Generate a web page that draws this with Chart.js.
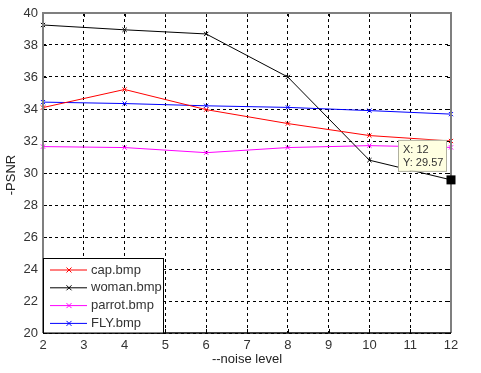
<!DOCTYPE html>
<html><head><meta charset="utf-8">
<script src="https://cdn.jsdelivr.net/npm/chart.js@4/dist/chart.umd.min.js"></script>
<style>html,body{margin:0;padding:0;background:#fff}#wrap{width:481px;height:373px}</style>
</head><body><div id="wrap"><canvas id="c" width="481" height="373"></canvas></div>
<script>
const noiseLevels = [2, 4, 6, 8, 10, 12];
const seriesNames = ['cap.bmp', 'woman.bmp', 'parrot.bmp', 'FLY.bmp'];
const capValues = [34.09, 35.22, 33.96, 33.09, 32.34, 32.0];
const womanValues = [39.25, 38.95, 38.69, 36.0, 30.8, 29.57];
const parrotValues = [31.65, 31.59, 31.27, 31.59, 31.71, 31.6];
const flyValues = [34.43, 34.34, 34.2, 34.1, 33.9, 33.68];
const seriesColors = ['#ff0000', '#000000', '#ff00ff', '#0000ff'];
const xTicks = [2,3,4,5,6,7,8,9,10,11,12];
const yTicks = [20,22,24,26,28,30,32,34,36,38,40];
const cursorPoint = {x: 12, y: 29.57};
const xTitle = '--noise level';
const yTitle = '-PSNR';

const allValues = [capValues, womanValues, parrotValues, flyValues];
const datasets = allValues.map((vals, i) => ({
  label: seriesNames[i],
  data: noiseLevels.map((x, j) => ({x, y: vals[j]})),
  borderColor: seriesColors[i],
  backgroundColor: seriesColors[i],
  borderWidth: 1,
  pointStyle: 'crossRot',
  pointRadius: 3,
  pointBorderWidth: 1,
  tension: 0,
  clip: false
}));

const F = '"Liberation Sans", Arial, sans-serif';

const extras = {
  id: 'extras',
  afterDatasetsDraw(chart) {
    const {ctx, chartArea: a, scales: {x, y}} = chart;
    ctx.save();
    // inner tick marks on right and top (MATLAB box style)
    ctx.strokeStyle = '#000'; ctx.lineWidth = 1;
    ctx.beginPath();
    yTicks.forEach(v => { const py = Math.round(y.getPixelForValue(v)) + 0.5; ctx.moveTo(a.right - 4, py); ctx.lineTo(a.right, py); ctx.moveTo(a.left, py); ctx.lineTo(a.left + 4, py); });
    xTicks.forEach(v => { const px = Math.round(x.getPixelForValue(v)) + 0.5; ctx.moveTo(px, a.top); ctx.lineTo(px, a.top + 4); ctx.moveTo(px, a.bottom); ctx.lineTo(px, a.bottom - 4); });
    ctx.stroke();
    // box borders
    ctx.strokeStyle = '#7f7f7f';
    ctx.lineWidth = 2;
    ctx.beginPath();
    ctx.moveTo(a.left, a.bottom); ctx.lineTo(a.left, a.top); ctx.lineTo(a.right, a.top); ctx.lineTo(a.right, a.bottom);
    ctx.stroke();
    ctx.strokeStyle = '#000';
    ctx.lineWidth = 1.5;
    ctx.beginPath(); ctx.moveTo(a.left, a.bottom); ctx.lineTo(a.right, a.bottom); ctx.stroke();

    // axis titles
    ctx.fillStyle = '#222';
    ctx.font = '13px ' + F;
    ctx.textAlign = 'center'; ctx.textBaseline = 'middle';
    ctx.fillText(xTitle, (a.left + a.right) / 2, 359);
    ctx.save();
    ctx.translate(11, 175);
    ctx.rotate(-Math.PI / 2);
    ctx.fillText(yTitle, 0, 0);
    ctx.restore();

    // legend
    const lx = a.left, ly = 258, lw = 120, lh = a.bottom - ly;
    ctx.fillStyle = '#fff';
    ctx.fillRect(lx, ly, lw, lh);
    ctx.strokeStyle = '#000'; ctx.lineWidth = 1;
    ctx.strokeRect(lx + 0.5, ly + 0.5, lw, lh - 0.5);
    ctx.font = '13px ' + F;
    ctx.textAlign = 'left'; ctx.textBaseline = 'middle';
    seriesNames.forEach((n, i) => {
      const yy = ly + 12 + i * 17.8;
      ctx.strokeStyle = seriesColors[i];
      ctx.beginPath(); ctx.moveTo(lx + 7, yy); ctx.lineTo(lx + 44, yy); ctx.stroke();
      const mx = lx + 26;
      ctx.beginPath();
      ctx.moveTo(mx - 2.5, yy - 2.5); ctx.lineTo(mx + 2.5, yy + 2.5);
      ctx.moveTo(mx + 2.5, yy - 2.5); ctx.lineTo(mx - 2.5, yy + 2.5);
      ctx.stroke();
      ctx.fillStyle = '#333';
      ctx.fillText(n, lx + 48, yy);
    });

    // data cursor
    const px = x.getPixelForValue(cursorPoint.x), py = y.getPixelForValue(cursorPoint.y);
    ctx.fillStyle = '#000';
    ctx.fillRect(px - 4.5, py - 4.5, 9, 9);
    const bx = px - 53, by = py - 40, bw = 48, bh = 31;
    ctx.fillStyle = '#ffffe1';
    ctx.fillRect(bx, by, bw, bh);
    ctx.strokeStyle = '#b0b0a0'; ctx.lineWidth = 1;
    ctx.strokeRect(bx + 0.5, by + 0.5, bw, bh);
    ctx.fillStyle = '#333';
    ctx.font = '11px ' + F;
    ctx.fillText('X: ' + cursorPoint.x, bx + 5, by + 10);
    ctx.fillText('Y: ' + cursorPoint.y.toFixed(2), bx + 5, by + 23);
    ctx.restore();
  }
};

new Chart(document.getElementById('c'), {
  type: 'line',
  data: {datasets},
  plugins: [extras],
  options: {
    responsive: false,
    animation: false,
    events: [],
    layout: {padding: {left: 0, top: 13, right: 30, bottom: 0}},
    plugins: {legend: {display: false}, tooltip: {enabled: false}},
    scales: {
      x: {
        type: 'linear', min: 2, max: 12,
        afterFit(s) { s.height = 40; },
        afterBuildTicks(s) { s.ticks = xTicks.map(v => ({value: v})); },
        grid: {color: '#000', lineWidth: 1, drawTicks: false},
        border: {display: false, dash: [3, 3]},
        ticks: {color: '#333', font: {size: 13, family: F}, padding: 5, maxRotation: 0}
      },
      y: {
        type: 'linear', min: 20, max: 40,
        afterFit(s) { s.width = 43; },
        afterBuildTicks(s) { s.ticks = yTicks.map(v => ({value: v})); },
        grid: {color: '#000', lineWidth: 1, drawTicks: false},
        border: {display: false, dash: [3, 3]},
        ticks: {color: '#333', font: {size: 13, family: F}, padding: 5}
      }
    }
  }
});
</script></body></html>
